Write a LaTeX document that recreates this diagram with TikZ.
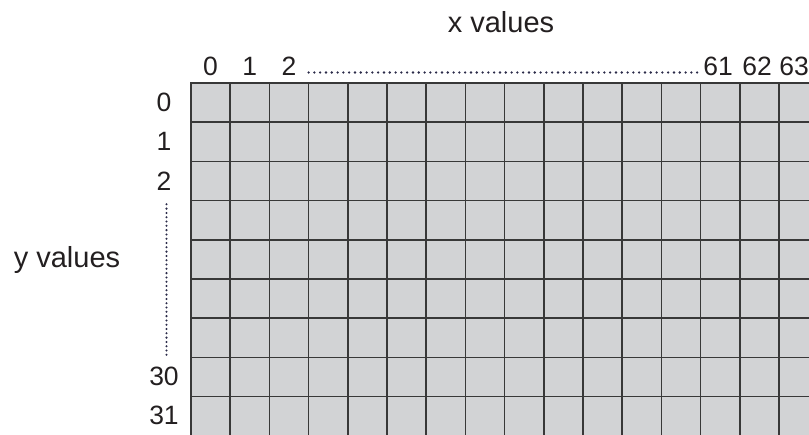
\documentclass[tikz,border=0pt]{standalone}
\usepackage{fontspec}
\setmainfont{Liberation Sans}
\usetikzlibrary{positioning,calc}
\definecolor{cellgray}{HTML}{D2D3D5}
\definecolor{linegray}{HTML}{383838}
\definecolor{inkgray}{HTML}{231F20}
\definecolor{dotblue}{HTML}{2A2A48}

\begin{document}
\begin{tikzpicture}[x=1pt, y=-1pt,
  lbl/.style={text=inkgray, inner sep=0pt, anchor=base, font=\fontsize{26.5}{30}\selectfont},
  axis/.style={text=inkgray, inner sep=0pt, anchor=base, font=\fontsize{29}{32}\selectfont},
  cell/.style={draw=linegray, fill=cellgray, line width=1.6pt},
  hdots/.style={draw=dotblue, line width=2.6pt, dash pattern=on 0pt off 5.8pt, line cap=round},
  vdots/.style={draw=dotblue, line width=2.3pt, dash pattern=on 0pt off 4.3pt, line cap=round}]
  \clip (0,0) rectangle (809,434);
  % cells of the table (cut off at the right and bottom)
  \foreach \i in {0,...,16}
    \foreach \j in {0,...,8}
      \draw[cell] ({191+39.2*\i},{83+39.2*\j}) rectangle +(39.2,39.2);
  \node[axis] (xval) at (501,32) {x values};
  \node[axis] (yval) at (67,267) {y values};
  % column numbers
  \node[lbl] (c0) at (210.6,75) {0};
  \node[lbl] (c1) at (249.8,75) {1};
  \node[lbl] (c2) at (289,75) {2};
  \node[lbl] (c61) at (718,75) {61};
  \node[lbl] (c62) at (757,75) {62};
  \node[lbl] (c63) at (794,75) {63};
  % row numbers
  \node[lbl] (r0) at (164,111.7) {0};
  \node[lbl] (r1) at (164,150.9) {1};
  \node[lbl] (r2) at (164,190.1) {2};
  \node[lbl] (r30) at (164,385.4) {30};
  \node[lbl] (r31) at (164,424.6) {31};
  \draw[hdots] ([xshift=12pt,yshift=2.5pt]c2.base east) -- ([xshift=-5pt,yshift=2.5pt]c61.base west);
  \draw[vdots] ([xshift=2.5pt,yshift=-14pt]r2.south) -- ([xshift=2.5pt,yshift=9pt]r30.north);
\end{tikzpicture}
\end{document}
